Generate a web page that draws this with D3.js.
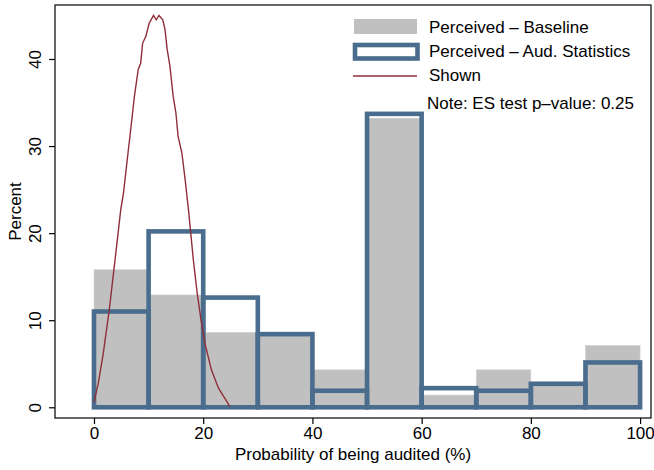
<!DOCTYPE html>
<html><head><meta charset="utf-8">
<script src="https://cdn.jsdelivr.net/npm/d3@7"></script>
<style>
html,body{margin:0;padding:0;background:#fff;}
svg{display:block;font-family:"Liberation Sans",Arial,Helvetica,sans-serif;}
</style></head>
<body>
<svg id="chart" width="654" height="470"></svg>
<script>
// ---- data ----
const binStarts = [0, 10, 20, 30, 40, 50, 60, 70, 80, 90];
const binWidth = 10;
const baseline = [15.8, 12.9, 8.6, 8.3, 4.3, 33.2, 1.4, 4.3, 2.6, 7.1];
const audStats = [11.0, 20.2, 12.6, 8.4, 1.9, 33.7, 2.2, 1.9, 2.7, 5.15];
const shownX = [0, 0.8, 1.7, 2.8, 3.85, 4.9, 5.4, 6.3, 6.8, 7.4, 8.1, 8.55, 8.9, 9.5, 10.1, 10.9, 11.4, 11.9, 12.6, 13.0, 13.4, 13.9, 14.5, 15.0, 15.4, 16.1, 16.7, 17.3, 18.2, 18.9, 19.6, 20.3, 21.5, 22.8, 24.9];
const shownY = [0.6, 2.8, 6.2, 11.2, 16.9, 22.7, 24.6, 29.6, 32.3, 35.7, 38.8, 39.5, 41.8, 42.6, 44.1, 45.0, 44.5, 45.0, 44.5, 43.4, 41.1, 39.2, 35.7, 33.8, 31.1, 29.2, 26.1, 22.7, 16.9, 13.1, 10.0, 7.4, 4.3, 2.2, 0.07];
const xTicks = [0, 20, 40, 60, 80, 100];
const yTicks = [0, 10, 20, 30, 40];
const legendLabels = ["Perceived \u2013 Baseline", "Perceived \u2013 Aud. Statistics", "Shown"];
const noteText = "Note: ES test p\u2013value: 0.25";
const xTitle = "Probability of being audited (%)";
const yTitle = "Percent";

// ---- layout ----
const L = 55, T = 5, R = 651, B = 418;
const svg = d3.select("#chart");
const x = d3.scaleLinear().domain([-7.14, 102.0]).range([L, R]);
const y = d3.scaleLinear().domain([-1.23, 46.2]).range([B, T]);

const grey = "#c0c0c0", blue = "#4b6d8d", red = "#8f2e38";

// frame
svg.append("rect").attr("x", L).attr("y", T).attr("width", R - L).attr("height", B - T)
  .attr("fill", "none").attr("stroke", "#000").attr("stroke-width", 1.2);

// baseline bars
svg.append("g").selectAll("rect").data(binStarts).join("rect")
  .attr("x", (d) => x(d))
  .attr("width", x(binWidth) - x(0))
  .attr("y", (d, i) => y(baseline[i]))
  .attr("height", (d, i) => y(0) - y(baseline[i]))
  .attr("fill", grey).attr("stroke", "#d2d2d2").attr("stroke-width", 0.6);

// aud statistics outlines
svg.append("g").selectAll("rect").data(binStarts).join("rect")
  .attr("x", (d) => x(d))
  .attr("width", x(binWidth) - x(0))
  .attr("y", (d, i) => y(audStats[i]))
  .attr("height", (d, i) => y(0) - y(audStats[i]))
  .attr("fill", "none").attr("stroke", blue).attr("stroke-width", 4.6);

// shown line
const line = d3.line().x((d) => x(d[0])).y((d) => y(d[1]));
svg.append("path").datum(shownX.map((v, i) => [v, shownY[i]]))
  .attr("d", line).attr("fill", "none").attr("stroke", red).attr("stroke-width", 1.4);

// x axis
const xAxis = svg.append("g").attr("transform", `translate(0,${B})`)
  .call(d3.axisBottom(x).tickValues(xTicks).tickSize(6).tickSizeOuter(0).tickPadding(3));
xAxis.select(".domain").remove();
xAxis.selectAll("line").attr("stroke", "#000").attr("stroke-width", 1.2);
xAxis.selectAll("text").attr("font-size", 17).attr("fill", "#000")
  .attr("font-family", "Liberation Sans, Arial, sans-serif");

// y axis
const yAxis = svg.append("g").attr("transform", `translate(${L},0)`)
  .call(d3.axisLeft(y).tickValues(yTicks).tickSize(6).tickSizeOuter(0));
yAxis.select(".domain").remove();
yAxis.selectAll("line").attr("stroke", "#000").attr("stroke-width", 1.2);
yAxis.selectAll("text")
  .attr("font-size", 17).attr("fill", "#000")
  .attr("font-family", "Liberation Sans, Arial, sans-serif")
  .attr("x", null).attr("dy", null)
  .attr("text-anchor", "middle")
  .attr("transform", "translate(-14,0) rotate(-90)");

// titles
svg.append("text").attr("x", (L + R) / 2).attr("y", 460).attr("text-anchor", "middle")
  .attr("font-size", 17).text(xTitle);
svg.append("text").attr("transform", `translate(21,${(T + B) / 2}) rotate(-90)`)
  .attr("text-anchor", "middle").attr("font-size", 17).text(yTitle);

// legend
const lg = svg.append("g");
lg.append("rect").attr("x", 354).attr("y", 19).attr("width", 63).attr("height", 15).attr("fill", grey);
lg.append("rect").attr("x", 355).attr("y", 45).attr("width", 62.5).attr("height", 13.5)
  .attr("fill", "#fff").attr("stroke", blue).attr("stroke-width", 4.6);
lg.append("line").attr("x1", 353).attr("x2", 417).attr("y1", 76).attr("y2", 76)
  .attr("stroke", red).attr("stroke-width", 1.4);
const legY = [33, 57, 80.5];
lg.selectAll("text.lab").data(legendLabels).join("text").attr("class", "lab")
  .attr("x", 429).attr("y", (d, i) => legY[i]).attr("font-size", 17).text((d) => d);
svg.append("text").attr("x", 427).attr("y", 109).attr("font-size", 17).text(noteText);
</script>
</body></html>
